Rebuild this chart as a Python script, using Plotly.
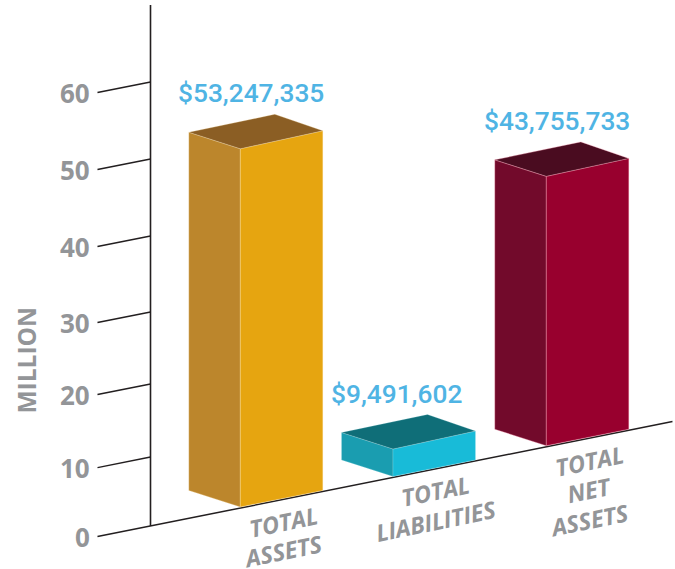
import plotly.graph_objects as go

# ---- data ----
categories = [["TOTAL", "ASSETS"], ["TOTAL", "LIABILITIES"], ["TOTAL", "NET", "ASSETS"]]
value_labels = [53247335, 9491602, 43755733]
# The reference does not draw its bars to scale: front-edge heights as drawn, on the axis scale
drawn_heights = [48.4, 3.7, 36.4]
tick_labels = ["0", "10", "20", "30", "40", "50", "60"]
# where each tick meets the vertical axis, as drawn (slightly uneven in the reference)
tick_levels = [0, 9.32, 19.19, 28.92, 39.19, 49.6, 60]
axis_title = "MILLION"
axis_top = 70.4

front_colors = ["#E6A510", "#18BBD8", "#98002E"]
side_colors = ["#BC862C", "#1A9DB0", "#720A2B"]
top_colors = ["#8B5E24", "#0F6E78", "#4A0C20"]
seam_colors = ["rgba(255,235,190,0.4)", "rgba(200,240,245,0.3)", "rgba(255,170,190,0.5)"]
GREY = "#939598"
BLUE = "#4FB4E4"
INK = "#231F20"

# ---- oblique projection ----
W, H = 675, 569
PX = 7.4            # pixels per million
AXIS_X = 150.5      # where the vertical axis stands
AXIS_BASE = 526     # pixel row of value 0 on that axis
RISE = 0.2          # floor rise per unit along the floor
BAR_W = 82.5
DEPTH = (-51.5, 16.5 / PX)
BACK = (-48, 16.5 / PX)
BAR_X = [240.3, 393.0, 546.3]   # front edges along the floor
TICK_LEN = 53


def lift(x):
    return (x - AXIS_X) * RISE / PX


def face(pts, color, seam, name):
    return go.Scatter(
        x=[p[0] for p in pts] + [pts[0][0]],
        y=[p[1] for p in pts] + [pts[0][1]],
        mode="lines", fill="toself", fillcolor=color,
        line=dict(color=seam, width=0.7), hoverinfo="skip",
        showlegend=False, name=name,
    )


fig = go.Figure()

# floor line + axis
fig.add_trace(go.Scatter(x=[AXIS_X - TICK_LEN, 672.5],
                         y=[lift(AXIS_X - TICK_LEN), lift(672.5)],
                         mode="lines", line=dict(color=INK, width=1.5),
                         showlegend=False, hoverinfo="skip"))
fig.add_trace(go.Scatter(x=[AXIS_X, AXIS_X], y=[0, axis_top], mode="lines",
                         line=dict(color=INK, width=1.6),
                         showlegend=False, hoverinfo="skip"))
for lvl in tick_levels[1:]:
    fig.add_trace(go.Scatter(x=[AXIS_X - TICK_LEN, AXIS_X],
                             y=[lvl + lift(AXIS_X - TICK_LEN), lvl],
                             mode="lines", line=dict(color=INK, width=1.5),
                             showlegend=False, hoverinfo="skip"))

# bars
annotations = []
for i, (x0, h) in enumerate(zip(BAR_X, drawn_heights)):
    x1 = x0 + BAR_W
    b0, b1 = lift(x0) + 0.15, lift(x1) + 0.15
    t0, t1 = b0 + h, b1 + h + 0.2
    xl = x0 + DEPTH[0]
    fig.add_trace(face([(xl, b0 + DEPTH[1]), (x0, b0), (x0, t0), (xl, t0 + DEPTH[1])],
                       side_colors[i], seam_colors[i], "side"))
    fig.add_trace(face([(x0, b0), (x1, b1), (x1, t1), (x0, t0)],
                       front_colors[i], seam_colors[i], "front"))
    back = (x1 + BACK[0], t1 + BACK[1])
    fig.add_trace(face([(xl, t0 + DEPTH[1]), (x0, t0), (x1, t1), back],
                       top_colors[i], seam_colors[i], "top"))
    # value label
    annotations.append(dict(
        x=xl - 12.5, y=back[1] + 21 / PX, text=f"${value_labels[i]:,}",
        xanchor="left", yanchor="middle", showarrow=False,
        font=dict(family="Roboto", size=26.3, color=BLUE, weight=500)))
    # category label, one annotation per line, stacked straight down
    cx = (x0 + x1) / 2 + 1.5
    for k, line in enumerate(categories[i]):
        annotations.append(dict(
            x=cx, y=lift(cx) - (22.5 + 29.5 * k) / PX, text=f"<b><i>{line}</i></b>",
            xanchor="center", yanchor="middle", showarrow=False, textangle=-11.6,
            font=dict(family="Open Sans", size=23.5, color=GREY)))

# tick labels
for lab, lvl in zip(tick_labels, tick_levels):
    annotations.append(dict(
        x=AXIS_X - TICK_LEN - 6, y=lvl + lift(AXIS_X - TICK_LEN), text=f"<b>{lab}</b>",
        xanchor="right", yanchor="middle", showarrow=False,
        font=dict(family="Open Sans", size=26, color=GREY)))

# axis title
annotations.append(dict(
    x=25.5, y=(AXIS_BASE - 361) / PX, text=f"<b>{axis_title}</b>",
    xanchor="center", yanchor="middle", showarrow=False, textangle=-90,
    font=dict(family="Open Sans", size=24.5, color=GREY)))

fig.update_layout(
    width=W, height=H, margin=dict(l=0, r=0, t=0, b=0),
    paper_bgcolor="white", plot_bgcolor="white", showlegend=False,
    xaxis=dict(range=[0, W], visible=False, fixedrange=True),
    yaxis=dict(range=[(AXIS_BASE - H) / PX, AXIS_BASE / PX], visible=False, fixedrange=True),
    annotations=annotations,
)

fig.write_html("out.html", config={"displayModeBar": False},
               post_script="document.body.style.margin='0';document.body.style.overflow='hidden';")
